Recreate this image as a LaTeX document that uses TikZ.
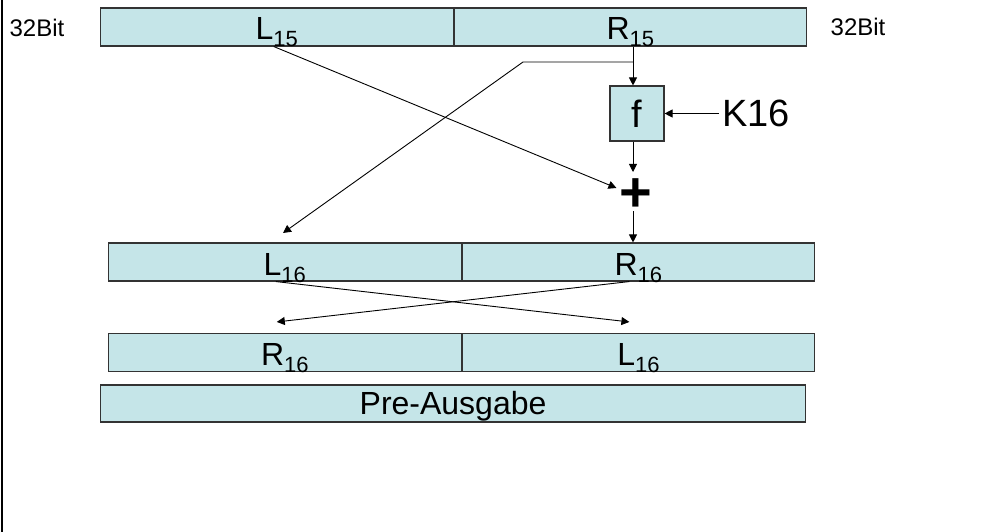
\documentclass[tikz,border=0pt]{standalone}
\usepackage{fontspec}
\setmainfont{Liberation Sans}
\usetikzlibrary{positioning,arrows.meta}
\definecolor{cellFill}{HTML}{C5E5E8}
\definecolor{cellLine}{HTML}{333333}
\newcommand{\subidx}[1]{\raisebox{-7pt}{\fontsize{22}{24}\selectfont #1}}

\begin{document}
\begin{tikzpicture}[
  x=1pt, y=-1pt,
  every node/.style={font=\fontsize{32}{36}\selectfont},
  half/.style={rectangle, draw=cellLine, line width=1.1pt, fill=cellFill, inner sep=0pt, minimum width=352.5pt, minimum height=38pt, text height=26pt, text depth=0pt},
  wide/.style={half, minimum width=705pt, minimum height=37pt, text height=22pt},
  fbox/.style={rectangle, draw=cellLine, line width=1.1pt, fill=cellFill, inner sep=0pt, minimum width=54pt, minimum height=55pt, font=\fontsize{38}{40}\selectfont},
  arr/.style={-{Triangle[length=8pt,width=8pt]}, line width=0.9pt},
  bits/.style={font=\fontsize{24}{28}\selectfont, anchor=base}
]
\useasboundingbox (0,0) rectangle (983,532);
\draw[line width=1.5pt] (2,0) -- (2,532);

% round 15 halves
\node[half, anchor=west] (l15) at (100,27) {L\subidx{15}};
\node[half, right=0pt of l15] (r15) {R\subidx{15}};
\node[bits] (bitsl) at (37,37) {32Bit};
\node[bits] (bitsr) at (858,36) {32Bit};

% round function
\node[fbox] (f) at (637,113.5) {f};
\node[font=\fontsize{38}{40}\selectfont, anchor=west, inner sep=0pt] (k16) at (722,113.5) {K16};
\node[font=\fontsize{56}{60}\selectfont\bfseries, inner sep=0pt] (plus) at (636,195) {+};

% round 16 halves
\node[half, anchor=west] (l16) at (108,262) {L\subidx{16}};
\node[half, right=0pt of l16] (r16) {R\subidx{16}};
\node[half, anchor=west] (r16b) at (108,352.5) {R\subidx{16}};
\node[half, right=0pt of r16b] (l16b) {L\subidx{16}};
\node[wide, anchor=west] (pre) at (100,403.5) {Pre-Ausgabe};

\coordinate (split) at (633,62);
\coordinate (bend) at (523,62);
\coordinate (l16in) at (283,233);
\coordinate (plusin) at (633,172);
\coordinate (plusout) at (633,211);

\draw[arr] (split |- r15.south) -- (split |- f.north);
\draw[arr] (split) -- (bend) -- (l16in);
\draw[arr] ([xshift=-3pt]l15.south) -- ([xshift=-3pt,yshift=7pt]plus.west);
\draw[arr] (split |- f.south) -- (plusin);
\draw[arr] (plusout) -- (split |- r16.north);
\draw[arr, shorten <=3pt] (k16.west) -- (f.east);
\draw[arr] ([xshift=-9pt]l16.south) -- ([xshift=-9pt,yshift=11pt]l16b.north);
\draw[arr] ([xshift=-9pt]r16.south) -- ([xshift=-8pt,yshift=11pt]r16b.north);
\end{tikzpicture}
\end{document}
